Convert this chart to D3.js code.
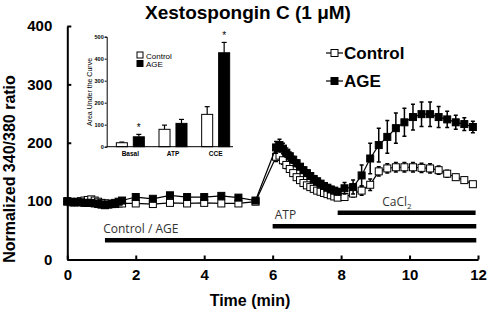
<!DOCTYPE html>
<html><head><meta charset="utf-8">
<script src="https://cdn.jsdelivr.net/npm/d3@7"></script>
<style>body{margin:0;background:#fff}svg{display:block}</style>
</head><body>
<svg id="c" width="490" height="312"></svg>
<script>
// ---------- main time course data ----------
const times = [0,0.1,0.2,0.3,0.4,0.5,0.6,0.7,0.8,0.9,1.0,1.1,1.2,1.3,1.4,1.5,1.6,
  2,2.5,3,3.5,4,4.5,5,5.5,
  6.1,6.2,6.3,6.4,6.5,6.6,6.7,6.8,6.9,7.0,7.1,7.2,7.3,7.4,7.5,7.6,7.7,7.8,7.9,
  8.1,8.35,8.6,8.85,9.1,9.35,9.6,9.85,10.1,10.35,10.6,10.85,11.1,11.35,11.6,11.85];
const ageMean = [100,99,98,98,98,97,97,97,96,95,94,93,94,95,97,99,101,
  107,104,110,107,107,109,106,101,
  192,196,190,183,177,171,165,159,153,148,143,138,134,130,126,123,120,118,116,
  122,124,144,173,196,210,225,235,244,249,249,244,240,235,232,227];
const ageErr = [2,2,2,2,2,2,2,2,2,2,2,2,2,2,2,2,2,
  3,3,3,3,3,3,3,3,
  10,10,9,8,7,6,6,5,5,5,5,5,5,5,5,5,5,5,5,
  10,12,18,26,29,28,26,24,22,21,21,18,14,12,11,10];
const ctrlMean = [99,98,98,99,100,101,102,103,101,99,97,96,96,95,95,96,96,
  96,95,97,96,97,96,96,99,
  176,178,170,162,155,148,141,136,131,127,124,121,118,116,114,112,110,108,106,
  107,113,118,128,151,156,158,158,158,157,156,153,147,141,136,129];
const ctrlErr = [2,2,2,2,2,2,2,2,2,2,2,2,2,2,2,2,2,
  2,2,2,2,2,2,2,2,
  8,8,7,6,5,5,5,4,4,4,4,4,4,4,4,4,4,4,4,
  5,6,8,10,8,8,8,8,8,8,8,7,6,5,5,4];
const xTicks = [0,2,4,6,8,10,12];
const yTicks = [0,100,200,300,400];

// stimulus bars
const stimLabels = ["Control / AGE","ATP","CaCl"];
const stimStart = [1.1,6.0,7.9];
const stimEnd = [11.95,11.95,11.93];
const stimLevel = [33,57,80];
const stimLabelT = [1.05,6.06,9.2];

// ---------- inset bar data ----------
const insetCats = ["Basal","ATP","CCE"];
const insetGroups = ["Control","AGE"];
const insetCtrl = [18,79,147];
const insetCtrlErr = [3,19,35];
const insetAge = [45,106,427];
const insetAgeErr = [11,18,47];
const insetSig = [true,false,true];
const insetTicks = [0,100,200,300,400,500];

const svg = d3.select("#c");
const FONT = "'Liberation Sans', Arial, sans-serif";
const x = d3.scaleLinear().domain([0,12]).range([67.3,478]);
const y = d3.scaleLinear().domain([0,400]).range([259.5,26]);

// axes
const gx = svg.append("g").attr("transform",`translate(0,${y(0)})`)
  .call(d3.axisBottom(x).tickValues(xTicks).tickSizeInner(-4).tickSizeOuter(0).tickPadding(14));
const gy = svg.append("g").attr("transform",`translate(${x(0)},0)`)
  .call(d3.axisLeft(y).tickValues(yTicks).tickSizeInner(-4).tickSizeOuter(0).tickPadding(15));
[gx,gy].forEach(g=>{
  g.select(".domain").attr("stroke","#000").attr("stroke-width",2);
  g.selectAll(".tick line").attr("stroke","#000").attr("stroke-width",2);
  g.selectAll("text").attr("font-family",FONT).attr("font-weight","bold").attr("font-size",15).attr("fill","#000");
});
gx.selectAll("text").attr("dy","0.45em");

// titles
svg.append("text").attr("x",248).attr("y",19).attr("text-anchor","middle")
  .attr("font-family",FONT).attr("font-weight","bold").attr("font-size",19).text("Xestospongin C (1 μM)");
svg.append("text").attr("x",250).attr("y",306).attr("text-anchor","middle")
  .attr("font-family",FONT).attr("font-weight","bold").attr("font-size",16).text("Time (min)");
svg.append("text").attr("transform","translate(15,169) rotate(-90)").attr("text-anchor","middle")
  .attr("font-family",FONT).attr("font-weight","bold").attr("font-size",16).text("Normalized 340/380 ratio");

// stimulus bars
const LFONT = "'Open Sans', Lato, sans-serif";
stimLabels.forEach((lab,i)=>{
  svg.append("line").attr("x1",x(stimStart[i])).attr("x2",x(stimEnd[i]))
    .attr("y1",y(stimLevel[i])).attr("y2",y(stimLevel[i]))
    .attr("stroke","#000").attr("stroke-width",4.5);
  const t = svg.append("text").attr("x",x(stimLabelT[i])).attr("y",y(stimLevel[i])-7)
    .attr("font-family",LFONT).attr("font-size",12).attr("fill","#333").text(lab);
  if(i===2) t.append("tspan").attr("font-size",8).attr("dy",3).text("2");
});

// series
function drawSeries(mean, err, fill){
  const g = svg.append("g");
  const pts = times.map((t,i)=>({t, m:mean[i], e:err[i]}));
  g.selectAll("line.eb").data(pts).join("line").attr("class","eb")
    .attr("x1",d=>x(d.t)).attr("x2",d=>x(d.t))
    .attr("y1",d=>y(d.m-d.e)).attr("y2",d=>y(d.m+d.e))
    .attr("stroke","#000").attr("stroke-width",1.5);
  g.selectAll("path.cap").data(pts).join("path").attr("class","cap")
    .attr("d",d=>`M${x(d.t)-2},${y(d.m+d.e)}h4M${x(d.t)-2},${y(d.m-d.e)}h4`)
    .attr("stroke","#000").attr("stroke-width",1.5);
  g.append("path").datum(pts)
    .attr("d",d3.line().x(d=>x(d.t)).y(d=>y(d.m)))
    .attr("fill","none").attr("stroke","#000").attr("stroke-width",1.2);
  g.selectAll("rect").data(pts).join("rect")
    .attr("x",d=>x(d.t)-3.5).attr("y",d=>y(d.m)-3.5).attr("width",7).attr("height",7)
    .attr("fill",fill).attr("stroke","#000").attr("stroke-width",1);
}
drawSeries(ctrlMean, ctrlErr, "#fff");
drawSeries(ageMean, ageErr, "#000");

// legend
const legNames = ["Control","AGE"], legFill = ["#fff","#000"], legY = [53,81];
legNames.forEach((n,i)=>{
  svg.append("line").attr("x1",326).attr("x2",343).attr("y1",legY[i]).attr("y2",legY[i]).attr("stroke","#000").attr("stroke-width",1.2);
  svg.append("rect").attr("x",331).attr("y",legY[i]-3.5).attr("width",7).attr("height",7)
    .attr("fill",legFill[i]).attr("stroke","#000");
  svg.append("text").attr("x",344).attr("y",legY[i]+6).attr("font-family",FONT)
    .attr("font-weight","bold").attr("font-size",17).text(n);
});

// ---------- inset ----------
const ix = d3.scaleBand().domain(insetCats).range([109,237]);
const isub = d3.scaleBand().domain(insetGroups).range([-14,14]).paddingInner(0.35);
const iy = d3.scaleLinear().domain([0,500]).range([146.7,36.7]);
const ig = svg.append("g");
const rows = insetCats.map((c,i)=>[
  {c,g:"Control",v:insetCtrl[i],e:insetCtrlErr[i],sig:false},
  {c,g:"AGE",v:insetAge[i],e:insetAgeErr[i],sig:insetSig[i]}]).flat();
const bx = d=>ix(d.c)+ix.bandwidth()/2+isub(d.g);
ig.selectAll("line.ie").data(rows).join("line").attr("class","ie")
  .attr("x1",d=>bx(d)+isub.bandwidth()/2).attr("x2",d=>bx(d)+isub.bandwidth()/2)
  .attr("y1",d=>iy(d.v)).attr("y2",d=>iy(d.v+d.e)).attr("stroke","#000").attr("stroke-width",1.2);
ig.selectAll("line.ic").data(rows).join("line").attr("class","ic")
  .attr("x1",d=>bx(d)+isub.bandwidth()/2-2.5).attr("x2",d=>bx(d)+isub.bandwidth()/2+2.5)
  .attr("y1",d=>iy(d.v+d.e)).attr("y2",d=>iy(d.v+d.e)).attr("stroke","#000").attr("stroke-width",1.2);
ig.selectAll("rect").data(rows).join("rect")
  .attr("x",bx).attr("width",isub.bandwidth())
  .attr("y",d=>iy(d.v)).attr("height",d=>iy(0)-iy(d.v))
  .attr("fill",d=>d.g==="AGE"?"#000":"#fff").attr("stroke","#000").attr("stroke-width",1);
ig.selectAll("text.star").data(rows.filter(d=>d.sig)).join("text").attr("class","star")
  .attr("x",d=>bx(d)+isub.bandwidth()/2).attr("y",d=>iy(d.v+d.e)-3)
  .attr("text-anchor","middle").attr("font-family",FONT).attr("font-size",10).text("*");
const igy = ig.append("g").attr("transform",`translate(106.7,0)`)
  .call(d3.axisLeft(iy).tickValues(insetTicks).tickSize(2).tickPadding(1));
igy.select(".domain").attr("stroke","#000").attr("stroke-width",1);
igy.selectAll("text").attr("font-family",FONT).attr("font-size",5.5).attr("font-weight","bold").attr("fill","#000");
const igx = ig.append("g").attr("transform",`translate(0,${iy(0)})`)
  .call(d3.axisBottom(ix).tickSize(0).tickPadding(5));
igx.select(".domain").attr("stroke","#000").attr("stroke-width",1).attr("d","M106.7,0H233");
igx.selectAll("text").attr("font-family",FONT).attr("font-size",6.5).attr("font-weight","bold").attr("fill","#000");
ig.append("text").attr("transform","translate(92,92) rotate(-90)").attr("text-anchor","middle")
  .attr("font-family",FONT).attr("font-size",7).text("Area Under the Curve");
insetGroups.forEach((n,i)=>{
  ig.append("rect").attr("x",137).attr("y",52+i*8.5).attr("width",6).attr("height",6)
    .attr("fill",i?"#000":"#fff").attr("stroke","#000");
  ig.append("text").attr("x",146).attr("y",58.5+i*8.5).attr("font-family",FONT).attr("font-size",8).text(n);
});
</script>
</body></html>
